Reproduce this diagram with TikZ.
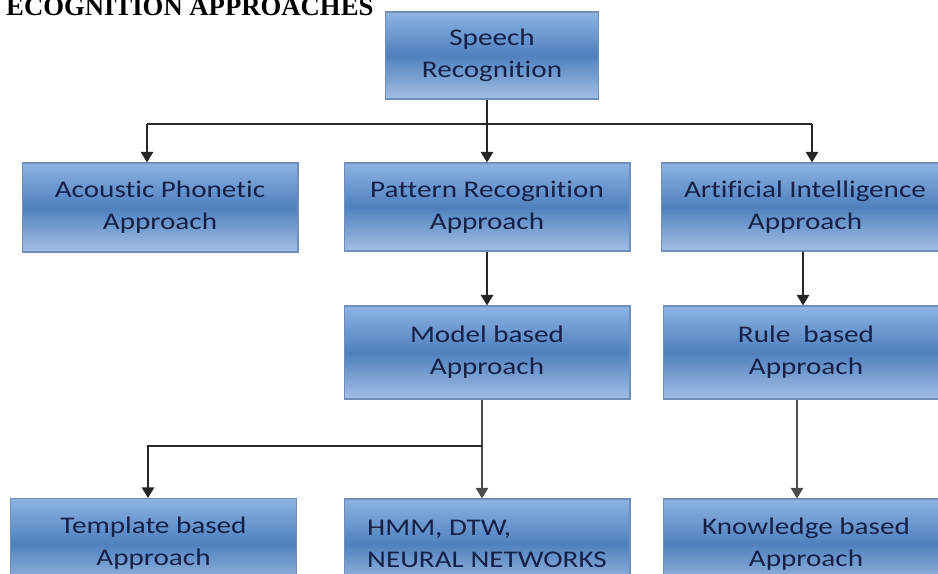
\documentclass[tikz,border=0pt]{standalone}
\usepackage{fontspec}
\setmainfont[FakeStretch=1.22,Ligatures=NoCommon]{Carlito}
\newfontfamily\titlefont{Liberation Serif}
\usepackage{xcolor}
\definecolor{boxtop}{HTML}{8DB3E2}
\definecolor{boxmid}{HTML}{4F81BD}
\definecolor{boxbot}{HTML}{A3BFE4}
\definecolor{boxline}{HTML}{6F8FBA}
\definecolor{boxtext}{HTML}{14224A}
\usepackage{tikz}
\usetikzlibrary{arrows.meta,positioning}

\begin{document}
\begin{tikzpicture}[x=0.02cm,y=-0.02cm,>={Triangle[length=6pt,width=7pt]},
    apbox/.style={draw=boxline,line width=0.6pt,top color=boxtop,bottom color=boxbot,middle color=boxmid,
      minimum width=5.72cm,minimum height=1.8cm,inner sep=0pt,align=center,text=boxtext,
      font=\fontsize{13.6}{18.1}\selectfont},
    link/.style={->,line width=0.9pt,black!85}]
    \useasboundingbox (0,0) rectangle (938,574);
    \clip (0,0) rectangle (938,574);
    \node[anchor=base west,font=\titlefont\bfseries\fontsize{15.2}{18}\selectfont] (title) at (0,16) {ECOGNITION APPROACHES};
    % boxes
    \node[apbox,minimum width=4.26cm,minimum height=1.74cm] (speech) at (492,55.5) {Speech\\Recognition};
    \node[apbox,minimum width=5.52cm,minimum height=1.78cm] (acoustic) at (160,207.5) {Acoustic Phonetic\\Approach};
    \node[apbox,minimum height=1.76cm] (pattern) at (487,207) {Pattern Recognition\\Approach};
    \node[apbox,minimum width=5.76cm,minimum height=1.76cm] (ai) at (805,207) {Artificial Intelligence\\Approach};
    \node[apbox,minimum height=1.86cm] (model) at (487,352.5) {Model based\\Approach};
    \node[apbox,minimum height=1.86cm] (rule) at (806,352.5) {Rule~ based\\Approach};
    \node[apbox,minimum width=5.74cm] (template) at (153.5,543.5) {Template based\\Approach};
    \node[apbox,align=left] (hmm) at (487,544) {HMM, DTW,\\NEURAL NETWORKS};
    \node[apbox] (knowledge) at (806,544) {Knowledge based\\Approach};
    % connectors
    \coordinate (busL) at (147,124);
    \coordinate (busR) at (812,124);
    \coordinate (fork) at (482,446);
    \coordinate (forkL) at (148,446);
    \draw[link,-] (pattern.north |- speech.south) -- (pattern.north |- busL);
    \draw[link,-] (busL) -- (busR);
    \draw[link] (busL) -- (busL |- acoustic.north);
    \draw[link] (pattern.north |- busL) -- (pattern.north);
    \draw[link] (busR) -- (busR |- ai.north);
    \draw[link] (pattern.south) -- (model.north);
    \draw[link] ([xshift=-0.04cm]ai.south) -- ([xshift=-0.06cm]rule.north);
    \draw[link,black!70] ([xshift=-0.18cm]rule.south) -- ([xshift=-0.18cm]knowledge.north);
    \draw[link,-,black!70] (fork |- model.south) -- (fork);
    \draw[link,black!70] (fork) -- (fork |- hmm.north);
    \draw[link] (fork) -- (forkL) -- (forkL |- template.north);
  \end{tikzpicture}
\end{document}
